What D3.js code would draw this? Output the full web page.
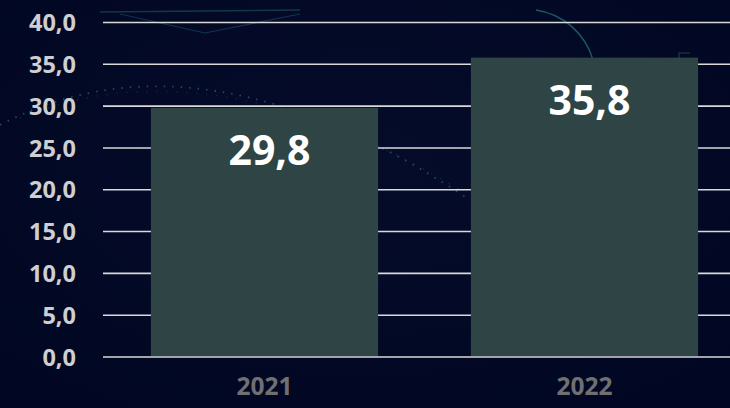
<!DOCTYPE html>
<html><head><meta charset="utf-8">
<script src="https://cdn.jsdelivr.net/npm/d3@7"></script>
<style>
html,body{margin:0;padding:0;background:#020823;overflow:hidden}
svg{display:block}
</style></head>
<body>
<script>
const categories = ["2021", "2022"];
const values = [29.8, 35.8];
const yTicks = [0, 5, 10, 15, 20, 25, 30, 35, 40];

const W = 730, H = 408;
const svg = d3.select("body").append("svg").attr("width", W).attr("height", H);

// background
const defs = svg.append("defs");
const grad = defs.append("radialGradient").attr("id","bg").attr("cx","50%").attr("cy","40%").attr("r","75%");
grad.append("stop").attr("offset","0%").attr("stop-color","#050c2a");
grad.append("stop").attr("offset","100%").attr("stop-color","#010722");
svg.append("rect").attr("width",W).attr("height",H).attr("fill","url(#bg)");

// decorative faint lines
const deco = svg.append("g").attr("fill","none");
deco.append("path").attr("d","M100,12 L300,10").attr("stroke","#1d4a5c").attr("stroke-width",1.5).attr("opacity",0.7);
deco.append("path").attr("d","M120,14 L205,33 L300,14").attr("stroke","#1a5266").attr("stroke-width",1.2).attr("opacity",0.6);
deco.append("path").attr("d","M536,10 A70,70 0 0 1 593,60").attr("stroke","#1f5366").attr("stroke-width",1.5);
deco.append("path").attr("d","M679,60 L679,53 L690,53").attr("stroke","#1d3c4c").attr("stroke-width",1.2);
deco.append("path").attr("d","M0,125 Q200,20 470,200").attr("stroke","#2b5a70").attr("stroke-width",1.8)
  .attr("stroke-dasharray","1.5 7").attr("opacity",0.8);
deco.append("path").attr("d","M20,118 Q210,40 460,190").attr("stroke","#24485c").attr("stroke-width",1.4)
  .attr("stroke-dasharray","1 9").attr("opacity",0.6);

const y = d3.scaleLinear().domain([0, 40]).range([357, 22.5]);
const x = d3.scaleBand().domain(categories).range([104.5, 744.5]).paddingInner(0.29).paddingOuter(0.145);

const font = "'Open Sans', 'DejaVu Sans', sans-serif";

// gridlines
svg.append("g").selectAll("line").data(yTicks).join("line")
  .attr("x1", 103).attr("x2", W)
  .attr("y1", d => y(d)).attr("y2", d => y(d))
  .attr("stroke", "#d9d9d9").attr("stroke-width", 1.6);

// bars (cover gridlines, keep baseline visible)
svg.append("g").selectAll("rect").data(values).join("rect")
  .attr("x", (d,i) => x(categories[i]))
  .attr("y", d => y(d))
  .attr("width", x.bandwidth())
  .attr("height", d => y(0) - y(d) - 1)
  .attr("fill", "#2e4445");

// y axis labels
const fmt = d => d3.format(".1f")(d).replace(".", ",");
const yAxis = d3.axisLeft(y).tickValues(yTicks).tickFormat(fmt).tickSize(0).tickPadding(0);
const ga = svg.append("g").attr("transform","translate(76,0)").call(yAxis);
ga.select(".domain").remove();
ga.selectAll("text").attr("fill","#cfcfd2").attr("font-family",font).attr("font-weight",700)
  .attr("font-size",23.5).attr("dy","0.35em");

// x axis labels
const xAxis = d3.axisBottom(x).tickSize(0).tickPadding(0);
const gx = svg.append("g").attr("transform","translate(0,378)").call(xAxis);
gx.select(".domain").remove();
gx.selectAll("text").attr("fill","#707070").attr("font-family",font).attr("font-weight",700)
  .attr("font-size",24.5).attr("dy","0.71em");

// value labels
svg.append("g").selectAll("text").data(values).join("text")
  .attr("x", (d,i) => x(categories[i]) + x.bandwidth()/2 + 5)
  .attr("y", d => y(d) + 57)
  .attr("text-anchor","middle")
  .attr("fill","#ffffff").attr("font-family",font).attr("font-weight",700).attr("font-size",41)
  .text(d => fmt(d));
</script>
</body></html>
